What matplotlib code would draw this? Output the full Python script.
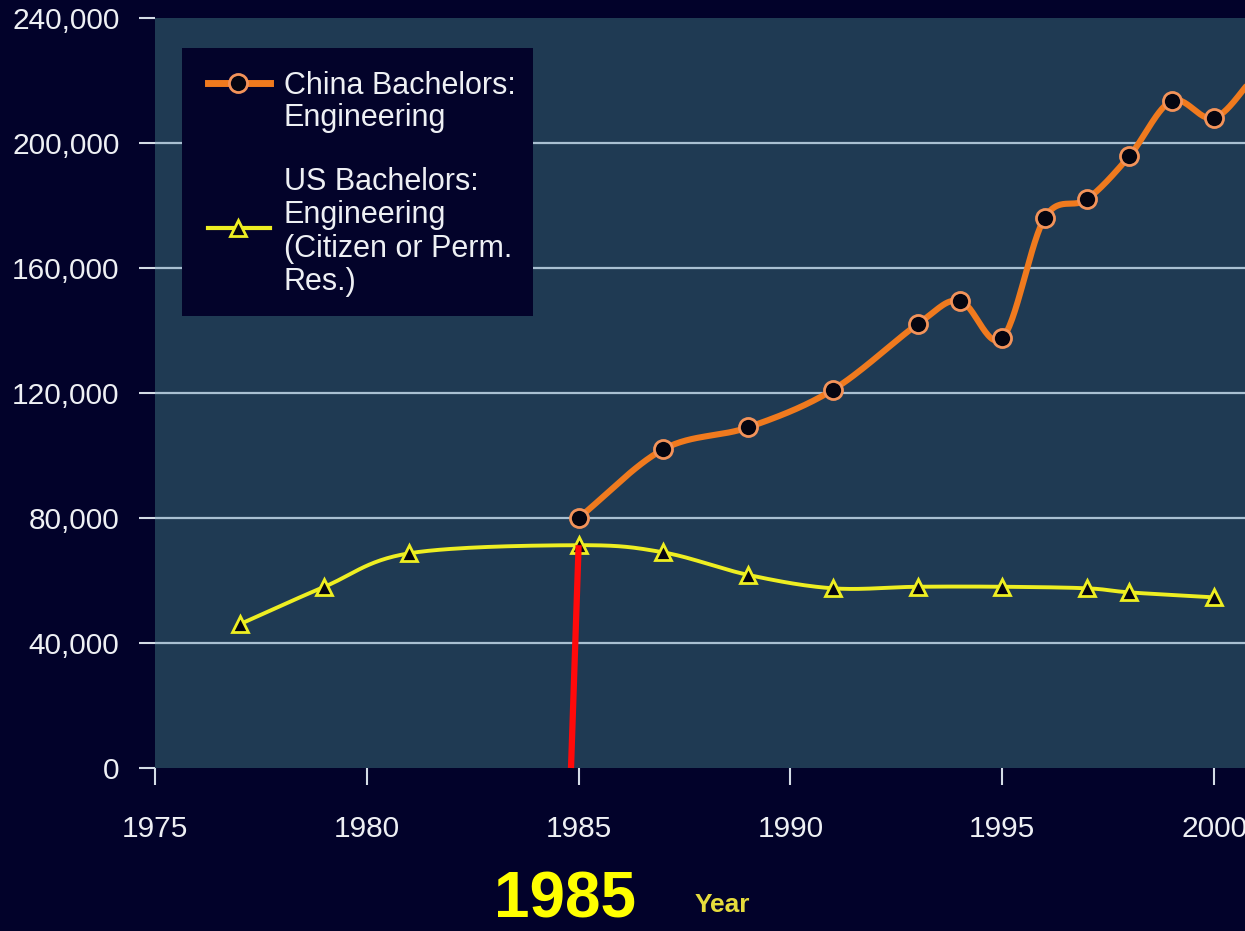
import numpy as np
import matplotlib
matplotlib.use("Agg")
from matplotlib import pyplot as plt
from matplotlib.lines import Line2D
from matplotlib.patches import Rectangle

# engineering bachelor degrees per year
china_years = [1985, 1987, 1989, 1991, 1993, 1994, 1995, 1996, 1997, 1998, 1999, 2000, 2001]
china_values = [80000, 102000, 109000, 121000, 142000, 149500, 137500, 176000, 182000,
                195800, 213500, 208000, 222000]
us_years = [1977, 1979, 1981, 1985, 1987, 1989, 1991, 1993, 1995, 1997, 1998, 2000]
us_values = [46000, 58000, 68700, 71300, 69000, 61800, 57500, 58000, 58000, 57500, 56200, 54600]

y_ticks = [0, 40000, 80000, 120000, 160000, 200000, 240000]
x_ticks = [1975, 1980, 1985, 1990, 1995, 2000]

china_label = ['China Bachelors:', 'Engineering']
us_label = ['US Bachelors:', 'Engineering', '(Citizen or Perm.', 'Res.)']

BG = '#02022a'
PLOT_BG = '#1f3a53'
TICK_COLOR = '#d4dce6'
TEXT_COLOR = '#eef0f4'
ORANGE = '#f07a1e'
YELLOW = '#eeee22'

W, H = 1245, 931


def smooth(xs, ys, steps=30):
    """Catmull-Rom curve through the points, like a smoothed office chart line"""
    xs = np.asarray(xs, float)
    ys = np.asarray(ys, float)
    px = np.concatenate([[2 * xs[0] - xs[1]], xs, [2 * xs[-1] - xs[-2]]])
    py = np.concatenate([[2 * ys[0] - ys[1]], ys, [2 * ys[-1] - ys[-2]]])
    out_x, out_y = [], []
    t = np.linspace(0, 1, steps, endpoint=False)
    for i in range(1, len(px) - 2):
        for arr, out in ((px, out_x), (py, out_y)):
            p0, p1, p2, p3 = arr[i - 1], arr[i], arr[i + 1], arr[i + 2]
            seg = 0.5 * ((2 * p1) + (-p0 + p2) * t
                         + (2 * p0 - 5 * p1 + 4 * p2 - p3) * t ** 2
                         + (-p0 + 3 * p1 - 3 * p2 + p3) * t ** 3)
            out.extend(seg)
    out_x.append(xs[-1])
    out_y.append(ys[-1])
    return np.array(out_x), np.array(out_y)


def fx(px):
    return px / W


def fy(py):
    return 1 - py / H


def legend_lines(lines, x, first_baseline, pitch=33):
    """write legend text one line at a time so baselines sit where wanted"""
    for i, line in enumerate(lines):
        fig.text(fx(x), fy(first_baseline + i * pitch), line, color=TEXT_COLOR,
                 fontsize=22, va='baseline', ha='left', zorder=7)


plt.rcParams['font.family'] = ['Liberation Sans', 'DejaVu Sans']

fig = plt.figure(figsize=(W / 100, H / 100), dpi=100, facecolor=BG)
ax = fig.add_axes([fx(155), fy(768), 1 - fx(155), fy(18) - fy(768)])
ax.set_facecolor(PLOT_BG)

ax.set_xlim(1975, 2000.73)
ax.set_ylim(0, 240000)

for v in y_ticks[1:-1]:
    ax.axhline(v, color='#a9c0d2', lw=1.6, zorder=1)

cx, cy = smooth(china_years, china_values)
ax.plot(cx, cy, color=ORANGE, lw=4.4, zorder=3, solid_capstyle='round')
ax.plot(china_years, china_values, 'o', ms=13, mfc='#050510', mec='#f3935a',
        mew=2, zorder=4)

ux, uy = smooth(us_years, us_values)
ax.plot(ux, uy, color=YELLOW, lw=2.8, zorder=3)
ax.plot(us_years, us_values, '^', ms=12, mfc='#050510', mec=YELLOW,
        mew=2, zorder=4)

# hand-drawn red marker at 1985
ax.plot([1984.82, 1985.0], [0, us_values[3]], color='#ff0a0a', lw=4.5,
        zorder=5, solid_capstyle='butt', clip_on=False)

for s in ax.spines.values():
    s.set_visible(False)

ax.set_yticks(y_ticks)
ax.set_yticklabels([f'{v:,}' for v in y_ticks])
ax.set_xticks(x_ticks)
ax.set_xticklabels([str(v) for v in x_ticks])
ax.tick_params(axis='y', direction='out', length=11.5, width=1.5,
               color=TICK_COLOR, labelcolor=TEXT_COLOR, labelsize=21.5, pad=14)
ax.tick_params(axis='x', direction='out', length=12, width=1.5,
               color=TICK_COLOR, labelcolor=TEXT_COLOR, labelsize=21.5, pad=22)

# legend box drawn on the figure
fig.patches.append(Rectangle((fx(182), fy(316)), fx(533) - fx(182), fy(48) - fy(316),
                             transform=fig.transFigure, facecolor='#03032a',
                             edgecolor='none', zorder=5))
fig.lines.append(Line2D([fx(208), fx(270)], [fy(83), fy(83)], transform=fig.transFigure,
                        color=ORANGE, lw=5, zorder=6))
fig.lines.append(Line2D([fx(238)], [fy(83)], transform=fig.transFigure, marker='o',
                        ms=13, mfc='#050510', mec='#f3935a', mew=2, zorder=7))
fig.lines.append(Line2D([fx(208), fx(270)], [fy(228), fy(228)], transform=fig.transFigure,
                        color=YELLOW, lw=3, zorder=6))
fig.lines.append(Line2D([fx(238)], [fy(228)], transform=fig.transFigure, marker='^',
                        ms=12, mfc='#050510', mec=YELLOW, mew=2, zorder=7))
legend_lines(china_label, 284, 94, pitch=32)
legend_lines(us_label, 284, 190, pitch=33.3)

fig.text(fx(722), fy(905), 'Year', color='#e6dc3c', fontsize=19, fontweight='bold',
         ha='center', va='center')
fig.text(fx(565), 0.001, '1985', color='#ffff00', fontsize=46, fontweight='bold',
         ha='center', va='bottom')

fig.savefig('out.png', dpi=100, facecolor=BG)
